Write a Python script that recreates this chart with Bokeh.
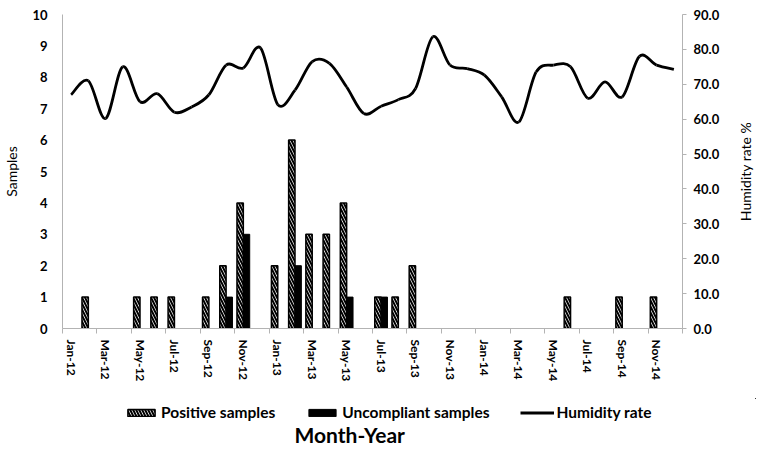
import math
from bokeh.plotting import figure
from bokeh.layouts import column, row
from bokeh.models import (Range1d, LinearAxis, FixedTicker, Legend, LegendItem,
                          Label, ColumnDataSource, NumeralTickFormatter)
from bokeh.embed import file_html
from bokeh.resources import INLINE

months = ["Jan-12", "Feb-12", "Mar-12", "Apr-12", "May-12", "Jun-12", "Jul-12", "Aug-12",
          "Sep-12", "Oct-12", "Nov-12", "Dec-12",
          "Jan-13", "Feb-13", "Mar-13", "Apr-13", "May-13", "Jun-13", "Jul-13", "Aug-13",
          "Sep-13", "Oct-13", "Nov-13", "Dec-13",
          "Jan-14", "Feb-14", "Mar-14", "Apr-14", "May-14", "Jun-14", "Jul-14", "Aug-14",
          "Sep-14", "Oct-14", "Nov-14", "Dec-14"]
positive = [0, 1, 0, 0, 1, 1, 1, 0, 1, 2, 4, 0,
            2, 6, 3, 3, 4, 0, 1, 1, 2, 0, 0, 0,
            0, 0, 0, 0, 0, 1, 0, 0, 1, 0, 1, 0]
uncompliant = [0, 0, 0, 0, 0, 0, 0, 0, 0, 1, 3, 0,
               0, 2, 0, 0, 1, 0, 1, 0, 0, 0, 0, 0,
               0, 0, 0, 0, 0, 0, 0, 0, 0, 0, 0, 0]
humidity = [67.0, 71.0, 60.2, 75.0, 65.0, 67.3, 62.0, 63.5, 67.0, 75.5, 74.7, 80.4,
            64.2, 68.3, 76.5, 76.0, 69.2, 61.6, 63.7, 65.6, 68.8, 83.6, 75.5, 74.5,
            72.6, 66.4, 59.2, 73.5, 75.5, 75.0, 66.0, 70.7, 66.4, 78.0, 75.5, 74.3]
left_ticks = [0, 1, 2, 3, 4, 5, 6, 7, 8, 9, 10]
right_ticks = [0, 10, 20, 30, 40, 50, 60, 70, 80, 90]

FONT = "Lato"
GRAY = "#b3b3b3"
POS_STYLE = dict(fill_color="white", line_color="black", line_width=1.5,
                 hatch_pattern="\\", hatch_color="black", hatch_weight=2, hatch_scale=6)
UNC_STYLE = dict(fill_color="black", line_color="black", line_width=1)
HUM_STYLE = dict(line_color="black", line_width=2.8)

n = len(months)
xc = [i + 0.5 for i in range(n)]

p = figure(width=726, height=398, output_backend="svg", toolbar_location=None,
           x_range=Range1d(0, n), y_range=Range1d(0, 10),
           min_border_top=14, min_border_right=44, min_border_left=60, min_border_bottom=70)
p.outline_line_color = None
p.xgrid.visible = False
p.ygrid.visible = False
p.extra_y_ranges = {"hum": Range1d(0, 90)}

bw = 0.37
pos_src = ColumnDataSource(dict(x=[xc[i] - bw / 2 for i in range(n) if positive[i] > 0],
                                top=[positive[i] for i in range(n) if positive[i] > 0]))
unc_src = ColumnDataSource(dict(x=[xc[i] + bw / 2 for i in range(n) if uncompliant[i] > 0],
                                top=[uncompliant[i] for i in range(n) if uncompliant[i] > 0]))
p.vbar(x="x", top="top", width=bw, source=pos_src, **POS_STYLE)
p.vbar(x="x", top="top", width=bw, source=unc_src, **UNC_STYLE)

# smoothed humidity line (Bezier segments through the data points)
x0s, y0s, x1s, y1s, cx0, cy0, cx1, cy1 = [], [], [], [], [], [], [], []
for i in range(n - 1):
    a = max(i - 1, 0)
    d = min(i + 2, n - 1)
    x0s.append(xc[i]); y0s.append(humidity[i])
    x1s.append(xc[i + 1]); y1s.append(humidity[i + 1])
    cx0.append(xc[i] + (xc[i + 1] - xc[a]) / 6)
    cy0.append(humidity[i] + (humidity[i + 1] - humidity[a]) / 6)
    cx1.append(xc[i + 1] - (xc[d] - xc[i]) / 6)
    cy1.append(humidity[i + 1] - (humidity[d] - humidity[i]) / 6)
p.bezier(x0=x0s, y0=y0s, x1=x1s, y1=y1s, cx0=cx0, cy0=cy0, cx1=cx1, cy1=cy1,
         y_range_name="hum", **HUM_STYLE)

# x axis
xa = p.xaxis[0]
xa.ticker = FixedTicker(ticks=[xc[i] for i in range(0, n, 2)],
                        minor_ticks=[float(i) for i in range(0, n + 1, 2)])
xa.major_label_overrides = {xc[i]: months[i] for i in range(0, n, 2)}
xa.major_label_orientation = "vertical"
xa.major_tick_out = 0
xa.major_tick_in = 0
xa.minor_tick_out = 5
xa.minor_tick_in = 0
xa.minor_tick_line_color = GRAY
xa.axis_line_color = GRAY
xa.major_label_standoff = 6
xa.major_label_text_font = FONT
xa.major_label_text_font_style = "bold"
xa.major_label_text_font_size = "12px"
xa.major_label_text_color = "black"

# left axis
ya = p.yaxis[0]
ya.ticker = FixedTicker(ticks=left_ticks)
ya.major_tick_out = 0
ya.major_tick_in = 0
ya.minor_tick_out = 0
ya.minor_tick_in = 0
ya.axis_line_color = GRAY
ya.major_label_standoff = 15
ya.major_label_text_font = FONT
ya.major_label_text_font_style = "bold"
ya.major_label_text_font_size = "13px"
ya.major_label_text_color = "black"
ya.axis_label = "Samples"
ya.axis_label_text_font = FONT
ya.axis_label_text_font_style = "normal"
ya.axis_label_text_font_size = "14px"
ya.axis_label_text_color = "black"
ya.axis_label_standoff = 9

# right axis (its title is drawn in the narrow strip to the right)
ra = LinearAxis(y_range_name="hum", ticker=FixedTicker(ticks=right_ticks),
                formatter=NumeralTickFormatter(format="0.0"))
ra.major_tick_out = 4
ra.major_tick_in = 0
ra.minor_tick_out = 0
ra.minor_tick_in = 0
ra.major_tick_line_color = GRAY
ra.axis_line_color = GRAY
ra.major_label_standoff = 7
ra.major_label_text_font = FONT
ra.major_label_text_font_style = "bold"
ra.major_label_text_font_size = "13px"
ra.major_label_text_color = "black"
p.add_layout(ra, "right")


def blank(width, height):
    f = figure(width=width, height=height, output_backend="svg", toolbar_location=None,
               x_range=Range1d(-20, -10), y_range=Range1d(-20, -10),
               x_axis_location=None, y_axis_location=None, frame_align=False,
               min_border_top=0, min_border_right=0, min_border_left=0, min_border_bottom=0)
    f.outline_line_color = None
    f.xgrid.visible = False
    f.ygrid.visible = False
    return f


r = blank(30, 398)
r.add_layout(Label(x=19, y=227, x_units="screen", y_units="screen", text="Humidity rate %",
                   angle=math.pi / 2, text_font=FONT, text_font_style="normal",
                   text_font_size="14px", text_color="black",
                   text_align="center", text_baseline="middle"))

# legend strip and x-axis title below the chart (its ranges keep the marks out of view)
q = blank(756, 50)
l_pos = q.vbar(x="x", top="top", width=bw, source=pos_src, **POS_STYLE)
l_unc = q.vbar(x="x", top="top", width=bw, source=unc_src, **UNC_STYLE)
l_hum = q.line(x=xc, y=humidity, **HUM_STYLE)

legend = Legend(items=[LegendItem(label="Positive samples", renderers=[l_pos]),
                       LegendItem(label="Uncompliant samples", renderers=[l_unc]),
                       LegendItem(label="Humidity rate", renderers=[l_hum])],
                orientation="horizontal", location=(124, 27),
                border_line_color=None, background_fill_alpha=0,
                label_text_font=FONT, label_text_font_style="bold",
                label_text_font_size="15.5px", label_text_color="black",
                glyph_width=34, glyph_height=9,
                spacing=30, label_standoff=3, padding=2, margin=0,
                label_height=16)
q.add_layout(legend, "center")

q.add_layout(Label(x=294, y=14, x_units="screen", y_units="screen", text="Month-Year",
                   text_font=FONT, text_font_style="bold", text_font_size="21px",
                   text_color="black", text_baseline="middle", text_align="left"))

layout = column(row(p, r, spacing=0), q, spacing=0)
open("out.html", "w").write(file_html(layout, INLINE))
